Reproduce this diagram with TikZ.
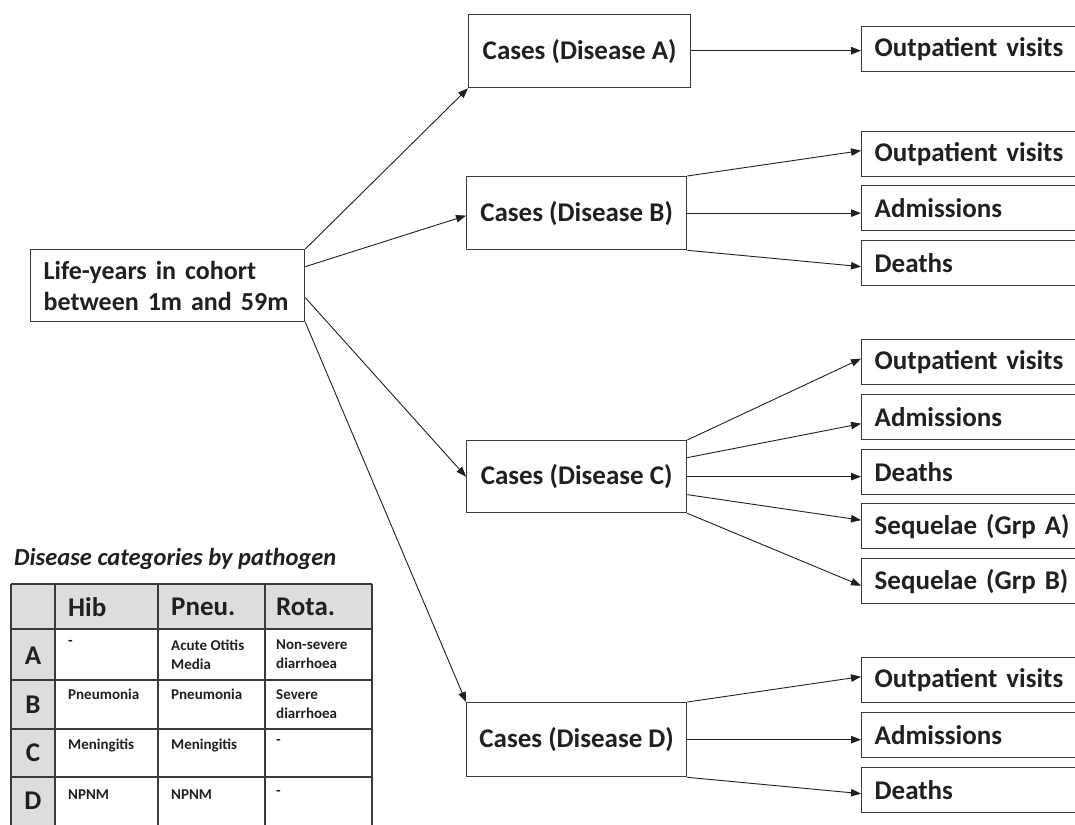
\documentclass[tikz,border=0pt]{standalone}
\usepackage{fontspec}
\setmainfont{Carlito}
\usetikzlibrary{arrows.meta}
\definecolor{ink}{HTML}{231F20}
\definecolor{edge}{HTML}{3A3A3A}
\definecolor{cellgray}{HTML}{DCDDDE}
\tikzset{
  box/.style={draw=edge, line width=1.3pt, inner sep=0pt, text=ink, font=\bfseries\fontsize{27}{31}\selectfont},
  casebox/.style={box, align=center, anchor=north west},
  outbox/.style={box, anchor=north west, minimum height=45pt, text width=204pt, inner xsep=13pt, align=left},
  arr/.style={draw=ink, line width=0.9pt, -{Triangle[length=10pt,width=7.5pt]}},
  tline/.style={draw=edge, line width=1.4pt},
  hdr/.style={text=ink, font=\bfseries\fontsize{27}{30}\selectfont, anchor=west, inner sep=0pt},
  rowl/.style={text=ink, font=\bfseries\fontsize{27}{30}\selectfont, inner sep=0pt},
  cell/.style={text=ink, font=\bfseries\fontsize{15}{19}\selectfont, anchor=north west, inner sep=0pt, align=left}
}
\begin{document}
\begin{tikzpicture}[x=1pt,y=-1pt]
\useasboundingbox (0,0) rectangle (1075,824);
\clip (0,0) rectangle (1075,824);
\fill[white] (0,0) rectangle (1075,824);

% left source box
\node[box, anchor=north west, minimum width=274pt, minimum height=72pt, text width=256pt, inner xsep=9pt, align=left] (lf) at (30,249)
  {\hspace*{4pt}\fontsize{26}{33}\selectfont Life-years in cohort\\\hspace*{4pt}between 1m and 59m};

% case boxes
\node[casebox, minimum width=222pt, minimum height=73pt] (ca) at (468,14) {Cases (Disease A)};
\node[casebox, minimum width=220pt, minimum height=73pt] (cb) at (466,176) {Cases (Disease B)};
\node[casebox, minimum width=220pt, minimum height=72pt] (cc) at (466,440) {Cases (Disease C)};
\node[casebox, minimum width=220pt, minimum height=74pt] (cd) at (466,702) {Cases (Disease D)};

% outcome boxes
\node[outbox] (oa) at (861,26) {Outpatient visits};
\node[outbox] (ob) at (861,131) {Outpatient visits};
\node[outbox] (ab) at (861,185) {Admissions};
\node[outbox] (db) at (861,240) {Deaths};
\node[outbox] (oc) at (861,339) {Outpatient visits};
\node[outbox] (ac) at (861,394) {Admissions};
\node[outbox] (dc) at (861,449) {Deaths};
\node[outbox] (sa) at (861,503) {Sequelae (Grp A)};
\node[outbox] (sb) at (861,558) {Sequelae (Grp B)};
\node[outbox] (od) at (861,657) {Outpatient visits};
\node[outbox] (ad) at (861,712) {Admissions};
\node[outbox] (dd) at (861,767) {Deaths};

% arrows from source
\draw[arr] (lf.north east) -- (ca.south west);
\draw[arr] ([yshift=19pt]lf.east) -- ([yshift=-2.5pt]cb.west);
\draw[arr] ([yshift=-12pt]lf.east) -- (cc.west);
\draw[arr] (lf.south east) -- (cd.north west);

% A
\draw[arr] ([yshift=0.5pt]ca.east) -- ([yshift=0.5pt]ca.east -| oa.west);
% B
\draw[arr] (cb.north east) -- ([yshift=3.5pt]ob.west);
\draw[arr] (cb.east) -- (cb.east -| ab.west);
\draw[arr] (cb.south east) -- ([yshift=-3.5pt]db.west);
% C
\draw[arr] (cc.north east) -- ([yshift=3.5pt]oc.west);
\draw[arr] ([yshift=19pt]cc.east) -- ([yshift=-6.5pt]ac.west);
\draw[arr] (cc.east) -- (cc.east -| dc.west);
\draw[arr] ([yshift=-18pt]cc.east) -- ([yshift=6pt]sa.west);
\draw[arr] (cc.south east) -- ([yshift=-4.5pt]sb.west);
% D
\draw[arr] (cd.north east) -- ([yshift=3.5pt]od.west);
\draw[arr] (cd.east) -- (cd.east -| ad.west);
\draw[arr] (cd.south east) -- ([yshift=-3.5pt]dd.west);

% table title
\node[text=ink, font=\bfseries\itshape\fontsize{24.5}{26}\selectfont, anchor=west, inner sep=0pt] (ttl) at (14,559) {Disease categories by pathogen};

% table
\fill[cellgray] (11,584) rectangle (372,629);
\fill[cellgray] (11,629) rectangle (55,830);
\foreach \yy in {584,629,680,729,777} {\draw[tline] (11,\yy) -- (372,\yy);}
\foreach \xx in {11,55,158,265,372} {\draw[tline] (\xx,584) -- (\xx,830);}

\node[hdr] (hib) at (68,607) {Hib};
\node[hdr] (pneu) at (171,607) {Pneu.};
\node[hdr] (rota) at (276,607) {Rota.};
\node[rowl] (ra) at (33,656) {A};
\node[rowl] (rb) at (33,705) {B};
\node[rowl] (rc) at (33,753) {C};
\node[rowl] (rd) at (33,801) {D};

\node[cell] (a1) at (68,640) {-};
\node[cell] (a2) at (171,640) {Acute Otitis\\Media};
\node[cell] (a3) at (276,640) {Non-severe\\diarrhoea};
\node[cell] (b1) at (68,689) {Pneumonia};
\node[cell] (b2) at (171,689) {Pneumonia};
\node[cell] (b3) at (276,689) {Severe\\diarrhoea};
\node[cell] (c1) at (68,739) {Meningitis};
\node[cell] (c2) at (171,739) {Meningitis};
\node[cell] (c3) at (276,739) {-};
\node[cell] (d1) at (68,790) {NPNM};
\node[cell] (d2) at (171,790) {NPNM};
\node[cell] (d3) at (276,790) {-};
\end{tikzpicture}
\end{document}
